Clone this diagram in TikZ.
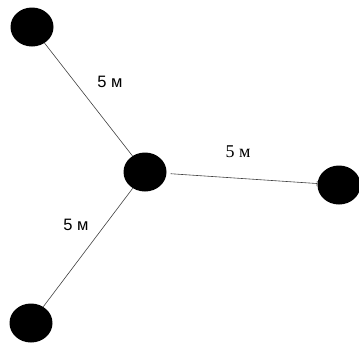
\documentclass[tikz,border=0pt]{standalone}
\usepackage{fontspec}
\setmainfont{Liberation Serif}
\setsansfont{Liberation Sans}
\usetikzlibrary{arrows.meta,shapes.geometric}

\begin{document}
\begin{tikzpicture}[x=1pt,y=-1pt,
  post/.style={ellipse,fill=black,minimum width=43pt,minimum height=39pt,inner sep=0pt},
  wire/.style={black!75,line width=0.6pt},
  dist/.style={font=\sffamily\fontsize{16.5}{16.5}\selectfont}]
  \useasboundingbox (0,0) rectangle (359,346);
  \node[post] (hub) at (145,172) {};
  \node[post] (nw) at (32,27) {};
  \node[post] (sw) at (31,323) {};
  \node[post] (east) at (339,185) {};

  \draw[wire] (nw) -- (hub);
  \draw[wire] (hub) -- (sw);
  \draw[wire,-{Bar[width=5pt]},shorten <=4pt] (hub) -- (east);
  \node[dist] (lnw) at (110,82) {5 м};
  \node[dist] (lsw) at (76,225) {5 м};
  \node[font=\fontsize{18}{18}\selectfont] (least) at (238,152) {5 м};
\end{tikzpicture}
\end{document}
